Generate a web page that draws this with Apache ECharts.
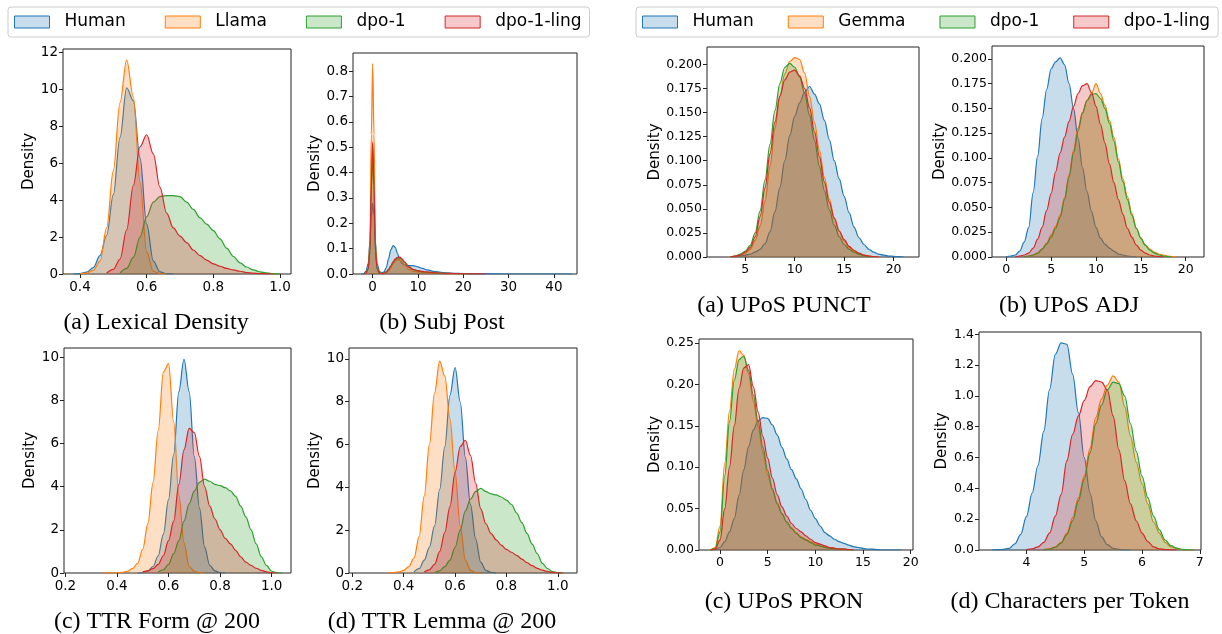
<!DOCTYPE html>
<html>
<head>
<meta charset="utf-8">
<script src="https://cdn.jsdelivr.net/npm/echarts@6/dist/echarts.min.js"></script>
<style>
html,body{margin:0;padding:0;background:#fff;}
#main{width:1222px;height:634px;}
</style>
</head>
<body>
<div id="main"></div>
<script>
// density curves, one x grid per panel
var ldX = [0.38,0.40,0.42,0.44,0.46,0.48,0.50,0.52,0.54,0.56,0.58,0.60,0.62,0.64,0.66,0.68,0.70,0.72,0.74,0.76,0.78,0.80,0.82,0.84,0.86,0.88,0.90,0.92,0.94,0.96,0.98,1.00];
var ldHuman = [0,0.02,0.1,0.35,1.0,2.1,4.3,7.4,10.1,9.4,6.3,2.7,0.7,0.12,0.02,0,null,null,null,null,null,null,null,null,null,null,null,null,null,null,null,null];
var ldLlama = [null,0.01,0.05,0.2,0.7,2.5,5.6,9.3,11.6,9.6,5.0,1.2,0.15,0.02,0,null,null,null,null,null,null,null,null,null,null,null,null,null,null,null,null,null];
var ldDpo = [null,null,null,null,null,null,null,0.05,0.3,0.9,2.0,3.1,3.9,4.2,4.25,4.25,4.2,3.9,3.5,3.05,2.7,2.35,1.9,1.4,0.95,0.6,0.38,0.22,0.12,0.06,0.02,0];
var ldLing = [null,null,null,null,null,0.05,0.25,0.8,2.4,4.8,6.9,7.55,6.5,4.7,3.3,2.5,2.05,1.7,1.3,1.0,0.75,0.55,0.42,0.3,0.22,0.15,0.08,0.05,0.02,0.01,0,null];

var spX = [-2.5,-2,-1.5,-1,-0.6,-0.3,0,0.3,0.6,1,1.5,2,2.5,3,3.5,4,4.5,5,5.5,6,6.5,7,8,9,10,11,12,14,16,18,20,22,25,30,35,40,44];
var spHuman = [0,0.002,0.01,0.04,0.13,0.23,0.28,0.23,0.13,0.04,0.01,0.005,0.008,0.025,0.06,0.095,0.112,0.105,0.08,0.055,0.042,0.036,0.033,0.033,0.028,0.022,0.016,0.009,0.005,0.003,0.002,0.001,0.0005,0,0,0,0];
var spLlama = [null,0,0.003,0.02,0.12,0.55,0.83,0.55,0.12,0.02,0.003,0.001,0.002,0.005,0.012,0.025,0.04,0.052,0.057,0.056,0.048,0.035,0.018,0.01,0.008,0.006,0.004,0.002,0.001,0,0,null,null,null,null,null,null];
var spDpo = [null,0,0.003,0.02,0.085,0.33,0.5,0.33,0.085,0.02,0.004,0.002,0.003,0.008,0.017,0.03,0.045,0.057,0.063,0.064,0.057,0.046,0.027,0.017,0.012,0.009,0.007,0.004,0.003,0.002,0.001,0,null,null,null,null,null];
var spLing = [null,0,0.003,0.02,0.09,0.35,0.52,0.35,0.09,0.02,0.004,0.002,0.003,0.008,0.018,0.032,0.048,0.06,0.066,0.067,0.06,0.048,0.028,0.018,0.013,0.01,0.008,0.005,0.003,0.002,0.001,0.0005,0,null,null,null,null];

var tfX = [0.34,0.36,0.38,0.40,0.42,0.44,0.46,0.48,0.50,0.52,0.54,0.56,0.58,0.60,0.62,0.64,0.66,0.68,0.70,0.72,0.74,0.76,0.78,0.80,0.82,0.84,0.86,0.88,0.90,0.92,0.94,0.96,0.98,1.00,1.02,1.04];
var tfHuman = [null,null,null,null,null,null,null,0.005,0.02,0.1,0.3,0.8,1.8,3.4,5.5,8.4,9.9,8.4,5.4,3.0,1.2,0.35,0.1,0.02,0,null,null,null,null,null,null,null,null,null,null,null];
var tfLlama = [0,0.003,0.005,0.01,0.03,0.08,0.2,0.45,1.1,2.3,4.2,6.6,9.3,9.7,7.0,3.6,1.4,0.3,0.08,0.01,0,null,null,null,null,null,null,null,null,null,null,null,null,null,null,null];
var tfDpo = [null,null,null,null,null,null,null,null,null,null,null,0.05,0.15,0.4,0.9,1.5,2.4,3.2,3.8,4.2,4.35,4.25,4.1,4.05,3.95,3.8,3.55,3.1,2.6,2.0,1.35,0.75,0.35,0.08,0.01,0];
var tfLing = [null,null,null,null,null,null,null,null,0.05,0.1,0.2,0.4,0.8,1.5,2.4,4.1,5.7,6.7,6.5,5.4,4.0,3.1,2.5,2.0,1.6,1.35,1.05,0.75,0.5,0.35,0.22,0.12,0.05,0.01,0,null];

var tlX = tfX;
var tlHuman = [null,null,null,null,null,0.05,0.2,0.6,1.2,2.2,3.9,5.9,8.3,9.6,8.0,5.4,3.2,1.6,0.5,0.12,0.03,0,null,null,null,null,null,null,null,null,null,null,null,null,null,null];
var tlLlama = [0.005,0.02,0.05,0.12,0.3,0.7,1.7,3.6,6.0,8.4,9.9,9.2,7.2,4.7,2.2,0.6,0.12,0.02,0,null,null,null,null,null,null,null,null,null,null,null,null,null,null,null,null,null];
var tlDpo = [null,null,null,null,null,null,null,null,null,0.02,0.1,0.3,0.6,1.2,2.0,2.9,3.45,3.8,3.95,3.8,3.7,3.65,3.55,3.4,3.2,2.8,2.35,1.85,1.35,0.9,0.45,0.2,0.07,0.02,0,null];
var tlLing = [null,null,null,null,null,null,null,0.05,0.15,0.4,1.0,1.9,3.1,4.7,5.9,6.2,5.5,4.2,3.0,2.3,1.85,1.55,1.3,1.1,0.97,0.82,0.65,0.48,0.34,0.22,0.13,0.07,0.03,0.01,0,null];

var puX = [3,3.5,4,4.5,5,5.5,6,6.5,7,7.5,8,8.5,9,9.5,10,10.5,11,11.5,12,12.5,13,13.5,14,14.5,15,15.5,16,16.5,17,17.5,18,18.5,19,19.5,20,20.5,21];
var puHuman = [null,null,0,0.001,0.002,0.003,0.005,0.008,0.014,0.026,0.047,0.072,0.1,0.126,0.146,0.16,0.171,0.177,0.169,0.159,0.142,0.122,0.1,0.081,0.063,0.046,0.031,0.02,0.013,0.008,0.005,0.003,0.002,0.001,0.0007,0.0003,0];
var puGemma = [null,0,0.001,0.002,0.004,0.008,0.017,0.032,0.058,0.094,0.133,0.167,0.19,0.203,0.207,0.205,0.191,0.167,0.14,0.111,0.083,0.06,0.041,0.027,0.017,0.01,0.006,0.003,0.002,0.001,0.0005,0,null,null,null,null,null];
var puDpo = [null,0,0.001,0.003,0.006,0.012,0.025,0.048,0.08,0.117,0.152,0.18,0.197,0.201,0.197,0.187,0.17,0.147,0.121,0.094,0.069,0.049,0.033,0.021,0.013,0.008,0.005,0.003,0.001,0.0005,0,null,null,null,null,null,null];
var puLing = [null,0,0.001,0.002,0.005,0.01,0.021,0.042,0.072,0.107,0.14,0.167,0.184,0.192,0.194,0.188,0.175,0.155,0.13,0.104,0.078,0.057,0.04,0.027,0.018,0.011,0.007,0.004,0.002,0.001,0.0005,0,null,null,null,null,null];

var adX = [0,0.5,1,1.5,2,2.5,3,3.5,4,4.5,5,5.5,6,6.5,7,7.5,8,8.5,9,9.5,10,10.5,11,11.5,12,12.5,13,13.5,14,14.5,15,15.5,16,16.5,17,17.5,18,18.5,19,19.5,20];
var adHuman = [0,0.001,0.002,0.006,0.015,0.03,0.065,0.102,0.14,0.169,0.19,0.197,0.201,0.194,0.175,0.15,0.12,0.09,0.066,0.046,0.03,0.019,0.013,0.009,0.006,0.003,0.002,0.001,0.0005,0,null,null,null,null,null,null,null,null,null,null,null];
var adGemma = [null,null,null,null,0,0.001,0.002,0.004,0.008,0.014,0.022,0.031,0.042,0.06,0.083,0.108,0.13,0.146,0.158,0.165,0.175,0.165,0.153,0.138,0.121,0.099,0.079,0.061,0.044,0.029,0.019,0.012,0.008,0.005,0.003,0.002,0.001,0.0005,0,null,null];
var adDpo = [null,null,null,null,0,0.001,0.002,0.004,0.008,0.013,0.02,0.029,0.04,0.058,0.081,0.105,0.127,0.145,0.158,0.164,0.165,0.16,0.15,0.135,0.117,0.096,0.076,0.058,0.042,0.029,0.019,0.012,0.007,0.004,0.002,0.001,0.0005,0,null,null,null];
var adLing = [null,null,0,0.001,0.002,0.004,0.009,0.018,0.03,0.047,0.064,0.086,0.105,0.121,0.137,0.152,0.165,0.173,0.175,0.166,0.152,0.134,0.115,0.094,0.075,0.058,0.043,0.029,0.02,0.012,0.007,0.004,0.002,0.001,0.0005,0,null,null,null,null,null];

var prX = [-1,-0.5,0,0.5,1,1.5,2,2.5,3,3.5,4,4.5,5,5.5,6,6.5,7,7.5,8,8.5,9,9.5,10,10.5,11,11.5,12,12.5,13,13.5,14,14.5,15,15.5,16,16.5,17,17.5,18,18.5,19];
var prHuman = [null,0,0.003,0.01,0.022,0.038,0.066,0.097,0.125,0.145,0.156,0.16,0.159,0.151,0.139,0.124,0.11,0.097,0.086,0.074,0.061,0.048,0.038,0.029,0.021,0.017,0.013,0.01,0.008,0.006,0.004,0.003,0.002,0.001,0.001,0.0005,0,0,0,0,0];
var prGemma = [0,0.003,0.029,0.105,0.168,0.218,0.241,0.235,0.213,0.18,0.149,0.118,0.091,0.072,0.055,0.043,0.034,0.027,0.021,0.016,0.013,0.01,0.007,0.005,0.004,0.003,0.002,0.0015,0.001,0.0005,0,null,null,null,null,null,null,null,null,null,null];
var prDpo = [0,0.002,0.022,0.09,0.155,0.205,0.23,0.234,0.217,0.187,0.155,0.124,0.096,0.074,0.057,0.044,0.034,0.026,0.02,0.015,0.012,0.009,0.006,0.005,0.003,0.002,0.002,0.001,0.001,0.0005,0,null,null,null,null,null,null,null,null,null,null];
var prLing = [0,0.001,0.012,0.05,0.1,0.15,0.195,0.22,0.224,0.197,0.167,0.137,0.111,0.087,0.067,0.052,0.041,0.032,0.026,0.022,0.017,0.013,0.009,0.007,0.005,0.003,0.002,0.001,0.001,0.0005,0,null,null,null,null,null,null,null,null,null,null];

var cpX = [3.3,3.4,3.5,3.6,3.7,3.8,3.9,4.0,4.1,4.2,4.3,4.4,4.5,4.6,4.7,4.8,4.9,5.0,5.1,5.2,5.3,5.4,5.5,5.6,5.7,5.8,5.9,6.0,6.1,6.2,6.3,6.4,6.5,6.6,6.7,6.8,6.9];
var cpHuman = [null,0,0.002,0.004,0.01,0.04,0.1,0.216,0.37,0.55,0.77,1.04,1.27,1.345,1.335,1.14,0.89,0.6,0.37,0.19,0.085,0.035,0.01,0.004,0.001,0,null,null,null,null,null,null,null,null,null,null,null];
var cpGemma = [null,null,null,null,null,null,null,null,null,null,0.002,0.008,0.02,0.05,0.11,0.21,0.34,0.48,0.66,0.86,0.98,1.07,1.13,1.09,0.93,0.74,0.57,0.43,0.3,0.18,0.11,0.05,0.02,0.01,0.003,0.001,0];
var cpDpo = [null,null,null,null,null,null,null,null,null,null,0.002,0.006,0.018,0.045,0.1,0.19,0.32,0.46,0.63,0.82,0.94,1.04,1.09,1.08,1.0,0.82,0.64,0.48,0.34,0.22,0.13,0.065,0.028,0.012,0.004,0.001,0];
var cpLing = [null,null,null,null,null,null,null,0.002,0.008,0.02,0.05,0.11,0.22,0.36,0.58,0.75,0.87,0.97,1.06,1.1,1.09,1.04,0.87,0.65,0.45,0.3,0.19,0.11,0.055,0.02,0.008,0.003,0.001,0,null,null,null];

var leftNames = ['Human', 'Llama', 'dpo-1', 'dpo-1-ling'];
var rightNames = ['Human', 'Gemma', 'dpo-1', 'dpo-1-ling'];
var captions = ['(a) Lexical Density', '(b) Subj Post', '(c) TTR Form @ 200', '(d) TTR Lemma @ 200',
                '(a) UPoS PUNCT', '(b) UPoS ADJ', '(c) UPoS PRON', '(d) Characters per Token'];

var lineColor = {'Human':'#1f77b4', 'Llama':'#ff7f0e', 'Gemma':'#ff7f0e', 'dpo-1':'#2ca02c', 'dpo-1-ling':'#d62728'};
var fillColor = {'Human':'rgba(31,119,180,0.25)', 'Llama':'rgba(255,127,14,0.25)', 'Gemma':'rgba(255,127,14,0.25)',
                 'dpo-1':'rgba(44,160,44,0.25)', 'dpo-1-ling':'rgba(214,39,40,0.25)'};

// layout of each small panel (pixels), axis ranges, ticks
var panels = [
  {xs: ldX, ys: [ldHuman, ldLlama, ldDpo, ldLing], names: leftNames, box: [63, 49, 228, 225],
   xr: [0.349, 1.033], yr: [0, 12.2], xt: [0.4, 0.6, 0.8, 1.0], yt: [0, 2, 4, 6, 8, 10, 12], xd: 1, yd: 0,
   gap: 23, fs: 13.5, cap: [156, 323]},
  {xs: spX, ys: [spHuman, spLlama, spDpo, spLing], names: leftNames, box: [353, 53, 224, 221],
   xr: [-4.34, 45.1], yr: [0, 0.872], xt: [0, 10, 20, 30, 40], yt: [0, 0.1, 0.2, 0.3, 0.4, 0.5, 0.6, 0.7, 0.8], xd: 0, yd: 1,
   gap: 29, fs: 13.5, cap: [442, 323]},
  {xs: tfX, ys: [tfHuman, tfLlama, tfDpo, tfLing], names: leftNames, box: [64, 348, 227, 225],
   xr: [0.1946, 1.075], yr: [0, 10.42], xt: [0.2, 0.4, 0.6, 0.8, 1.0], yt: [0, 2, 4, 6, 8, 10], xd: 1, yd: 0,
   gap: 25, fs: 13.5, cap: [157, 622]},
  {xs: tlX, ys: [tlHuman, tlLlama, tlDpo, tlLing], names: leftNames, box: [349, 348, 228, 225],
   xr: [0.187, 1.0747], yr: [0, 10.51], xt: [0.2, 0.4, 0.6, 0.8, 1.0], yt: [0, 2, 4, 6, 8, 10], xd: 1, yd: 0,
   gap: 25, fs: 13.5, cap: [442, 622]},
  {xs: puX, ys: [puHuman, puGemma, puDpo, puLing], names: rightNames, box: [707, 47, 212, 210],
   xr: [1.13, 22.57], yr: [0, 0.218], xt: [5, 10, 15, 20], yt: [0, 0.025, 0.05, 0.075, 0.1, 0.125, 0.15, 0.175, 0.2], xd: 0, yd: 3,
   gap: 42, fs: 12.5, cap: [784, 306]},
  {xs: adX, ys: [adHuman, adGemma, adDpo, adLing], names: rightNames, box: [992, 46, 212, 211],
   xr: [-1.59, 22.04], yr: [0, 0.213], xt: [0, 5, 10, 15, 20], yt: [0, 0.025, 0.05, 0.075, 0.1, 0.125, 0.15, 0.175, 0.2], xd: 0, yd: 3,
   gap: 42, fs: 12.5, cap: [1069, 306]},
  {xs: prX, ys: [prHuman, prGemma, prDpo, prLing], names: rightNames, box: [699, 339, 214, 211],
   xr: [-2.2, 20.24], yr: [0, 0.2549], xt: [0, 5, 10, 15, 20], yt: [0, 0.05, 0.1, 0.15, 0.2, 0.25], xd: 0, yd: 2,
   gap: 35, fs: 12.5, cap: [784, 602]},
  {xs: cpX, ys: [cpHuman, cpGemma, cpDpo, cpLing], names: rightNames, box: [979, 332, 222, 218],
   xr: [3.18, 7.02], yr: [0, 1.415], xt: [4, 5, 6, 7], yt: [0, 0.2, 0.4, 0.6, 0.8, 1.0, 1.2, 1.4], xd: 0, yd: 1,
   gap: 29, fs: 12.5, cap: [1070, 602]}
];

var grids = [], xAxes = [], yAxes = [], series = [], graphics = [];

panels.forEach(function (p, i) {
  grids.push({left: p.box[0], top: p.box[1], width: p.box[2], height: p.box[3],
              show: true, borderColor: '#222', borderWidth: 1, backgroundColor: 'transparent',
              containLabel: false, outerBoundsMode: 'none'});
  var lab = {fontFamily: 'DejaVu Sans', fontSize: p.fs, color: '#000'};
  xAxes.push({type: 'value', gridIndex: i, min: p.xr[0], max: p.xr[1],
    axisLine: {show: false, onZero: false}, splitLine: {show: false},
    axisTick: {show: true, length: 4, customValues: p.xt, lineStyle: {color: '#222'}},
    axisLabel: Object.assign({customValues: p.xt, margin: 6,
      formatter: (function (d) { return function (v) { return v.toFixed(d); }; })(p.xd)}, lab)});
  yAxes.push({type: 'value', gridIndex: i, min: p.yr[0], max: p.yr[1],
    name: 'Density', nameLocation: 'middle', nameRotate: 90, nameGap: p.gap,
    nameTextStyle: {fontFamily: 'DejaVu Sans', fontSize: 15, color: '#000'},
    axisLine: {show: false, onZero: false}, splitLine: {show: false},
    axisTick: {show: true, length: 4, customValues: p.yt, lineStyle: {color: '#222'}},
    axisLabel: Object.assign({customValues: p.yt, margin: 5,
      formatter: (function (d) { return function (v) { return v.toFixed(d); }; })(p.yd)}, lab)});
  p.names.forEach(function (name, k) {
    var ys = p.ys[k];
    var pts = p.xs.map(function (x, j) { return [x, ys[j]]; })
                  .filter(function (pt) { return pt[1] !== null; });
    series.push({type: 'line', name: name, xAxisIndex: i, yAxisIndex: i, data: pts,
      smooth: 0.35, smoothMonotone: 'x', showSymbol: false, symbol: 'none', silent: true,
      z: 2 + k, emphasis: {disabled: true},
      lineStyle: {color: lineColor[name], width: 1.2},
      itemStyle: {color: lineColor[name]},
      areaStyle: {color: lineColor[name], opacity: 0.25}});
  });
  graphics.push({type: 'text', x: p.cap[0], y: p.cap[1],
    style: {text: captions[i], fill: '#000', font: '24px "Liberation Serif"',
            align: 'center', verticalAlign: 'middle', textAlign: 'center', textVerticalAlign: 'middle'}});
});

function legendItems(names) {
  return names.map(function (n) {
    return {name: n, icon: 'rect',
            itemStyle: {color: fillColor[n], borderColor: lineColor[n], borderWidth: 1}};
  });
}
var legendBase = {orient: 'horizontal', itemWidth: 35, itemHeight: 12, selectedMode: false,
  borderColor: '#cccccc', borderWidth: 1, borderRadius: 3, backgroundColor: '#fff',
  padding: [5, 8, 5, 6],
  textStyle: {fontFamily: 'DejaVu Sans', fontSize: 17, color: '#000', padding: [0, 0, 0, 10], lineHeight: 20}};

var myChart = echarts.init(document.getElementById('main'));
myChart.setOption({
  animation: false,
  backgroundColor: '#fff',
  legend: [
    Object.assign({}, legendBase, {left: 8, top: 7, itemGap: 39, data: legendItems(leftNames)}),
    Object.assign({}, legendBase, {left: 636, top: 7, itemGap: 34, data: legendItems(rightNames)})
  ],
  grid: grids,
  xAxis: xAxes,
  yAxis: yAxes,
  series: series,
  graphic: graphics
});
</script>
</body>
</html>
